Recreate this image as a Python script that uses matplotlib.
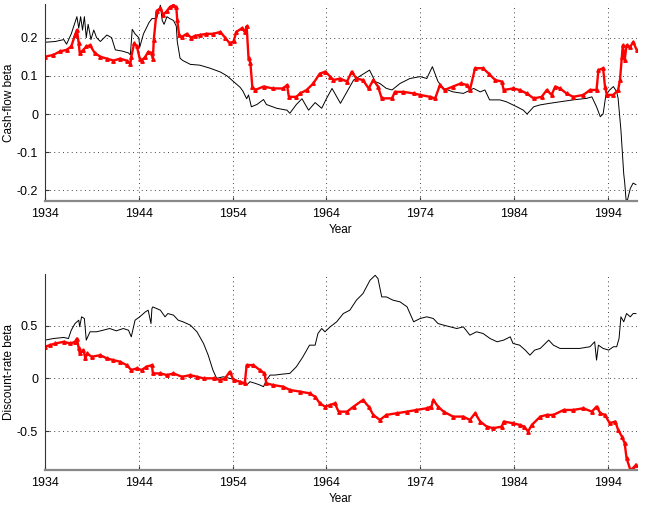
import numpy as np
import matplotlib.pyplot as plt

plt.rcParams['font.family'] = ['Liberation Sans', 'DejaVu Sans']

# --- datos ---
years_ticks = [1934, 1944, 1954, 1964, 1974, 1984, 1994]

# panel superior: cash-flow beta
cf_black_year = [1934.0, 1935.1, 1936.0, 1936.3, 1936.8, 1937.4, 1937.6, 1937.8, 1938.0, 1938.2,
                 1938.4, 1938.6, 1938.9, 1939.2, 1939.5, 1939.9, 1940.6, 1941.1, 1941.5, 1942.2,
                 1942.9, 1943.1, 1943.3, 1943.6, 1944.0, 1944.1, 1944.5, 1944.8, 1945.1, 1945.4,
                 1945.9, 1946.3, 1946.5, 1946.7, 1947.0, 1947.3, 1947.7, 1948.0, 1948.1, 1948.4,
                 1948.7, 1949.5, 1950.5, 1951.6, 1952.7, 1953.4, 1954.1, 1954.8, 1955.1, 1955.5,
                 1955.7, 1956.0, 1956.6, 1957.3, 1957.6, 1958.7, 1959.8, 1960.1, 1960.5, 1960.8,
                 1961.4, 1962.1, 1962.8, 1963.5, 1964.0, 1964.6, 1965.5, 1966.9, 1968.6, 1969.2,
                 1969.7, 1970.4, 1971.0, 1971.85, 1972.9, 1974.0, 1974.7, 1975.3, 1975.9, 1976.5,
                 1977.5, 1978.6, 1979.7, 1980.4, 1980.9, 1981.4, 1982.5, 1983.2, 1984.3, 1985.0,
                 1985.4, 1986.1, 1986.8, 1987.8, 1988.9, 1990.3, 1991.75, 1992.3, 1992.8, 1993.2,
                 1993.5, 1993.8, 1994.2, 1994.6, 1994.95, 1995.1, 1995.4, 1995.7, 1995.8, 1995.95,
                 1996.1, 1996.4, 1996.7, 1997.0]
cf_black = [0.188, 0.19, 0.195, 0.183, 0.21, 0.255, 0.225, 0.255, 0.22, 0.255,
            0.2, 0.235, 0.195, 0.22, 0.2, 0.19, 0.207, 0.2, 0.168, 0.165,
            0.16, 0.155, 0.222, 0.21, 0.2, 0.175, 0.21, 0.225, 0.24, 0.25,
            0.25, 0.285, 0.245, 0.235, 0.255, 0.25, 0.245, 0.23, 0.19, 0.146,
            0.14, 0.13, 0.128, 0.12, 0.11, 0.1, 0.085, 0.07, 0.06, 0.04,
            0.05, 0.019, 0.025, 0.038, 0.025, 0.015, 0.01, 0.002, 0.015, 0.025,
            0.04, 0.01, 0.03, 0.015, 0.04, 0.067, 0.028, 0.089, 0.115, 0.085,
            0.08, 0.067, 0.063, 0.08, 0.093, 0.098, 0.093, 0.124, 0.085, 0.067,
            0.058, 0.054, 0.067, 0.058, 0.063, 0.037, 0.037, 0.032, 0.019, 0.01,
            0.0, 0.019, 0.024, 0.028, 0.032, 0.037, 0.041, 0.045, 0.019, -0.007,
            0.0, 0.05, 0.063, 0.072, 0.058, 0.041, -0.042, -0.157, -0.179, -0.225,
            -0.225, -0.195, -0.181, -0.185]

cf_red_year = [1934.0, 1934.9, 1935.6, 1936.3, 1936.8, 1937.2, 1937.4, 1937.6, 1937.7, 1938.1,
               1938.4, 1938.8, 1939.3, 1939.9, 1940.6, 1941.3, 1942.0, 1942.7, 1943.1, 1943.2,
               1943.5, 1943.8, 1944.1, 1944.3, 1944.7, 1945.0, 1945.4, 1945.5, 1945.6, 1945.9,
               1946.3, 1946.6, 1947.0, 1947.3, 1947.7, 1948.0, 1948.1, 1948.3, 1948.6, 1949.1,
               1949.6, 1950.0, 1950.5, 1951.2, 1951.9, 1952.7, 1953.2, 1953.7, 1954.1, 1954.4,
               1955.0, 1955.3, 1955.5, 1955.7, 1955.9, 1956.1, 1956.4, 1957.3, 1958.3, 1959.4,
               1959.8, 1960.0, 1960.8, 1961.2, 1961.9, 1962.6, 1963.3, 1963.9, 1964.4, 1964.75,
               1965.46, 1966.2, 1966.7, 1967.2, 1967.9, 1968.5, 1969.0, 1969.5, 1969.9, 1971.0,
               1971.3, 1972.2, 1973.3, 1974.0, 1975.05, 1975.6, 1976.1, 1976.6, 1977.5, 1978.3,
               1979.0, 1979.3, 1979.85, 1980.7, 1981.3, 1982.0, 1982.7, 1982.9, 1983.9, 1984.6,
               1985.35, 1986.1, 1986.95, 1987.5, 1988.0, 1988.4, 1988.9, 1989.6, 1990.3, 1991.4,
               1992.1, 1992.8, 1993.0, 1993.5, 1993.7, 1993.9, 1994.6, 1995.1, 1995.3, 1995.5,
               1995.6, 1995.8, 1996.0, 1996.4, 1996.7, 1997.1]
cf_red = [0.15, 0.155, 0.164, 0.168, 0.177, 0.207, 0.22, 0.185, 0.16, 0.168,
          0.177, 0.18, 0.16, 0.15, 0.145, 0.14, 0.145, 0.14, 0.132, 0.15,
          0.185, 0.177, 0.145, 0.14, 0.15, 0.163, 0.16, 0.145, 0.195, 0.27,
          0.277, 0.26, 0.27, 0.28, 0.285, 0.28, 0.245, 0.207, 0.202, 0.21,
          0.2, 0.205, 0.207, 0.21, 0.21, 0.215, 0.2, 0.185, 0.19, 0.215,
          0.225, 0.215, 0.23, 0.146, 0.133, 0.072, 0.063, 0.072, 0.067, 0.067,
          0.076, 0.045, 0.045, 0.054, 0.063, 0.08, 0.106, 0.111, 0.098, 0.089,
          0.093, 0.085, 0.111, 0.093, 0.089, 0.067, 0.089, 0.072, 0.041, 0.041,
          0.058, 0.058, 0.054, 0.05, 0.045, 0.041, 0.076, 0.063, 0.072, 0.08,
          0.076, 0.063, 0.12, 0.12, 0.106, 0.089, 0.085, 0.063, 0.067, 0.063,
          0.054, 0.041, 0.045, 0.063, 0.05, 0.072, 0.067, 0.054, 0.045, 0.05,
          0.063, 0.063, 0.115, 0.12, 0.072, 0.05, 0.05, 0.063, 0.089, 0.15,
          0.18, 0.141, 0.18, 0.176, 0.189, 0.167]

# panel inferior: discount-rate beta
dr_black_year = [1934.0, 1934.9, 1936.0, 1936.5, 1936.8, 1937.2, 1937.6, 1937.7, 1937.9, 1938.2,
                 1938.4, 1938.8, 1939.5, 1940.2, 1940.9, 1941.6, 1942.35, 1942.9, 1943.2, 1943.6,
                 1944.1, 1944.7, 1945.0, 1945.3, 1945.4, 1945.5, 1946.3, 1946.8, 1947.1, 1947.7,
                 1948.2, 1948.7, 1949.5, 1950.2, 1950.9, 1951.4, 1951.9, 1952.3, 1953.0, 1953.7,
                 1954.4, 1955.1, 1955.5, 1955.85, 1956.4, 1956.9, 1957.3, 1957.6, 1958.0, 1958.5,
                 1959.4, 1960.1, 1960.8, 1961.5, 1962.2, 1962.8, 1963.1, 1963.5, 1963.85, 1964.4,
                 1965.1, 1965.8, 1966.5, 1967.2, 1967.9, 1968.65, 1969.2, 1969.5, 1969.9, 1970.4,
                 1971.1, 1971.85, 1972.6, 1973.3, 1974.0, 1974.7, 1975.4, 1975.9, 1976.5, 1977.2,
                 1977.9, 1978.6, 1979.3, 1980.0, 1980.7, 1981.45, 1982.2, 1982.9, 1983.6, 1983.9,
                 1984.6, 1985.2, 1985.7, 1986.2, 1986.8, 1987.7, 1988.2, 1988.9, 1990.0, 1991.0,
                 1992.1, 1992.6, 1992.8, 1993.0, 1993.5, 1994.1, 1994.6, 1994.95, 1995.2, 1995.4,
                 1995.7, 1996.0, 1996.4, 1996.7, 1997.0]
dr_black = [0.363, 0.378, 0.388, 0.378, 0.457, 0.52, 0.552, 0.49, 0.584, 0.568,
            0.363, 0.442, 0.442, 0.457, 0.473, 0.451, 0.473, 0.457, 0.394, 0.552,
            0.584, 0.631, 0.647, 0.52, 0.663, 0.678, 0.647, 0.584, 0.615, 0.6,
            0.552, 0.537, 0.505, 0.442, 0.331, 0.22, 0.079, 0.0, 0.015, 0.0,
            -0.016, -0.047, -0.063, -0.032, -0.047, -0.063, -0.079, -0.016, 0.031, 0.031,
            0.041, 0.047, 0.11, 0.205, 0.315, 0.315, 0.426, 0.473, 0.442, 0.489,
            0.537, 0.615, 0.647, 0.742, 0.805, 0.931, 0.978, 0.947, 0.773, 0.773,
            0.742, 0.726, 0.679, 0.537, 0.568, 0.584, 0.568, 0.52, 0.505, 0.489,
            0.473, 0.489, 0.41, 0.442, 0.426, 0.378, 0.347, 0.363, 0.394, 0.331,
            0.315, 0.268, 0.22, 0.268, 0.284, 0.363, 0.315, 0.284, 0.284, 0.284,
            0.3, 0.347, 0.173, 0.315, 0.284, 0.268, 0.3, 0.3, 0.378, 0.584,
            0.537, 0.615, 0.584, 0.615, 0.615]

dr_red_year = [1934.0, 1934.5, 1935.1, 1936.0, 1936.7, 1937.2, 1937.4, 1937.6, 1937.7, 1938.1,
               1938.3, 1938.5, 1938.97, 1939.9, 1940.6, 1941.3, 1942.0, 1942.7, 1943.2, 1943.8,
               1944.3, 1944.8, 1945.4, 1945.5, 1946.3, 1947.0, 1947.7, 1948.6, 1949.5, 1950.2,
               1950.9, 1952.0, 1952.7, 1953.2, 1953.7, 1954.1, 1954.8, 1955.3, 1955.5, 1956.2,
               1956.9, 1957.4, 1957.6, 1958.3, 1959.4, 1960.1, 1961.2, 1962.2, 1962.8, 1963.3,
               1963.85, 1964.4, 1964.9, 1965.3, 1966.2, 1966.9, 1967.9, 1968.5, 1969.0, 1969.7,
               1970.4, 1971.5, 1972.6, 1973.6, 1974.7, 1975.2, 1975.4, 1975.9, 1976.5, 1977.5,
               1978.6, 1979.3, 1979.85, 1980.4, 1981.1, 1981.8, 1982.7, 1982.9, 1983.9, 1984.6,
               1985.1, 1985.5, 1985.9, 1986.8, 1987.5, 1988.2, 1989.3, 1990.3, 1991.4, 1992.3,
               1992.8, 1993.2, 1993.7, 1994.2, 1994.8, 1995.1, 1995.5, 1995.8, 1996.0, 1996.4,
               1996.7, 1997.0]
dr_red = [0.3, 0.315, 0.331, 0.347, 0.331, 0.347, 0.378, 0.284, 0.236, 0.268,
          0.189, 0.236, 0.205, 0.22, 0.189, 0.173, 0.158, 0.126, 0.079, 0.095,
          0.079, 0.11, 0.126, 0.047, 0.047, 0.031, 0.047, 0.015, 0.031, 0.015,
          0.0, 0.0, -0.016, 0.0, 0.063, -0.016, -0.032, -0.047, 0.126, 0.126,
          0.079, 0.047, -0.047, -0.063, -0.079, -0.11, -0.126, -0.142, -0.174, -0.237,
          -0.268, -0.253, -0.237, -0.316, -0.316, -0.268, -0.205, -0.268, -0.347, -0.395,
          -0.347, -0.331, -0.316, -0.3, -0.284, -0.268, -0.205, -0.268, -0.316, -0.363,
          -0.363, -0.395, -0.331, -0.41, -0.458, -0.473, -0.458, -0.41, -0.426, -0.442,
          -0.458, -0.505, -0.442, -0.363, -0.347, -0.347, -0.3, -0.3, -0.284, -0.316,
          -0.268, -0.331, -0.347, -0.426, -0.41, -0.489, -0.552, -0.616, -0.758, -0.868,
          -0.852, -0.821]

cf_ticks = [-0.2, -0.1, 0, 0.1, 0.2]
cf_labels = ['-0.2', '-0.1', '0', '0.1', '0.2']
dr_ticks = [-0.5, 0, 0.5]
dr_labels = ['-0.5', '0', '0.5']


def estilo(ax, ylim, yticks, ylabels, ylabel):
    ax.set_xlim(1934, 1997.1)
    ax.set_ylim(*ylim)
    ax.set_xticks(years_ticks)
    ax.set_xticklabels([str(y) for y in years_ticks])
    ax.set_yticks(yticks)
    ax.set_yticklabels(ylabels)
    ax.grid(True, linestyle=(0, (1, 3.5)), color='#444444', linewidth=0.7)
    for s in ['top', 'right']:
        ax.spines[s].set_visible(False)
    ax.spines['left'].set_color('#333333')
    ax.spines['left'].set_linewidth(0.8)
    ax.spines['bottom'].set_color('#888888')
    ax.spines['bottom'].set_linewidth(1.6)
    ax.tick_params(direction='in', length=3, labelsize=9, pad=5, color='#333333')
    ax.set_xlabel('Year', fontsize=8.5, labelpad=3)
    ax.set_ylabel(ylabel, fontsize=8.5, labelpad=1)


fig = plt.figure(figsize=(6.54, 5.09), dpi=100)
ax1 = fig.add_axes([0.0688, 0.605, 0.905, 0.387])
ax2 = fig.add_axes([0.0688, 0.0766, 0.905, 0.385])

ax1.plot(cf_black_year, cf_black, color='black', linewidth=0.7)
ax1.plot(cf_red_year, cf_red, color='red', linewidth=1.7, marker='^', markersize=2.5)
estilo(ax1, (-0.228, 0.288), cf_ticks, cf_labels, 'Cash-flow beta')

ax2.plot(dr_black_year, dr_black, color='black', linewidth=0.7)
ax2.plot(dr_red_year, dr_red, color='red', linewidth=1.7, marker='^', markersize=2.5)
estilo(ax2, (-0.87, 0.99), dr_ticks, dr_labels, 'Discount-rate beta')

fig.savefig('out.png', dpi=100)
